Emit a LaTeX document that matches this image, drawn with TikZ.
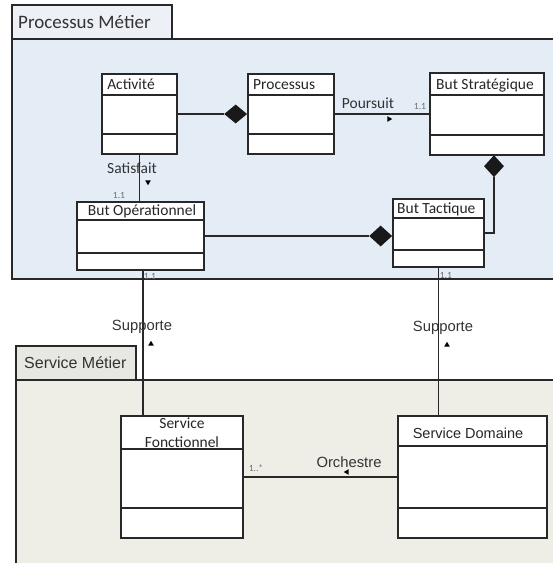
\documentclass[tikz,border=0pt]{standalone}
\usepackage{fontspec}
\setmainfont{Carlito}
\newfontfamily\arialfont{Liberation Sans}
\usetikzlibrary{positioning,shapes.geometric}
\definecolor{procfill}{RGB}{228,236,246}
\definecolor{proctab}{RGB}{237,241,247}
\definecolor{servfill}{RGB}{238,238,231}
\definecolor{servtab}{RGB}{232,232,226}
\definecolor{lineclr}{RGB}{40,40,40}
\definecolor{multclr}{RGB}{110,110,110}

\begin{document}
\begin{tikzpicture}[x=1pt, y=-1pt,
    pkgshape/.style={draw=lineclr, line width=1.1pt},
    classbox/.style={draw=lineclr, fill=white, line width=1.3pt, inner sep=0pt},
    classname/.style={font=\fontsize{15.5}{17}\selectfont, inner sep=0pt, text=black!85},
    assoc/.style={draw=lineclr, line width=1.1pt},
    compo/.style={diamond, fill=black!90, inner sep=0pt, minimum width=23pt, minimum height=19pt},
    dirtri/.style={regular polygon, regular polygon sides=3, fill=black, inner sep=0pt, minimum size=6.5pt},
    assoclabel/.style={font=\fontsize{15.5}{17}\selectfont, inner sep=0pt, text=black!80},
    mult/.style={font=\fontsize{9.5}{10}\selectfont, inner sep=0pt, text=multclr}
]
\useasboundingbox (0,0) rectangle (553,563);
\clip (0,0) rectangle (553,563);

% packages
\draw[pkgshape, fill=proctab] (12,5) rectangle (172,39);
\draw[pkgshape, fill=procfill] (12,39) rectangle (560,279);
\node[font=\fontsize{19}{21}\selectfont, anchor=west, inner sep=0pt, text=black!80] (pkgproc) at (18,22) {Processus Métier};

\draw[pkgshape, fill=servtab] (16,346) rectangle (136,380);
\draw[pkgshape, fill=servfill] (16,380) rectangle (560,570);
\node[font=\arialfont\fontsize{16}{18}\selectfont, anchor=west, inner sep=0pt, text=black!80] (pkgserv) at (24,363) {Service Métier};

% classes
\node[classbox, minimum width=75pt, minimum height=80pt] (act) at (139.5,114) {};
\draw[classbox] (act.west |- 0,95) -- (act.east |- 0,95);
\draw[classbox] (act.west |- 0,134) -- (act.east |- 0,134);
\node[classname] (actname) at (131,84.5) {Activité};

\node[classbox, minimum width=86pt, minimum height=80pt] (proc) at (291,114) {};
\draw[classbox] (proc.west |- 0,95) -- (proc.east |- 0,95);
\draw[classbox] (proc.west |- 0,134) -- (proc.east |- 0,134);
\node[classname, anchor=west] (procname) at (253,84.5) {Processus};

\node[classbox, minimum width=114pt, minimum height=82pt] (bs) at (487,114) {};
\draw[classbox] (bs.west |- 0,95) -- (bs.east |- 0,95);
\draw[classbox] (bs.west |- 0,135) -- (bs.east |- 0,135);
\node[classname, anchor=west] (bsname) at (436,85) {But Stratégique};

\node[classbox, minimum width=127pt, minimum height=68pt] (bo) at (140.5,236) {};
\draw[classbox] (bo.west |- 0,220) -- (bo.east |- 0,220);
\draw[classbox] (bo.west |- 0,253) -- (bo.east |- 0,253);
\node[classname] (boname) at (142,212) {\underline{But Opérationnel}};

\node[classbox, minimum width=91pt, minimum height=68pt] (bt) at (438.5,233) {};
\draw[classbox] (bt.west |- 0,218) -- (bt.east |- 0,218);
\draw[classbox] (bt.west |- 0,250) -- (bt.east |- 0,250);
\node[classname, anchor=west] (btname) at (397,210) {\underline{But Tactique}};

\node[classbox, minimum width=122pt, minimum height=122pt] (sf) at (182,477) {};
\draw[classbox] (sf.west |- 0,449) -- (sf.east |- 0,449);
\draw[classbox] (sf.west |- 0,508) -- (sf.east |- 0,508);
\node[classname, align=center, font=\fontsize{15.5}{19}\selectfont] (sfname) at (182,432.5) {Service\\Fonctionnel};

\node[classbox, minimum width=149pt, minimum height=122pt] (sd) at (472.5,477) {};
\draw[classbox] (sd.west |- 0,446) -- (sd.east |- 0,446);
\draw[classbox] (sd.west |- 0,508) -- (sd.east |- 0,508);
\node[classname, font=\arialfont\fontsize{14.5}{17}\selectfont] (sdname) at (468,433) {Service Domaine};

% connectors
\node[compo, anchor=east] (d1) at (proc.west) {};
\draw[assoc] (act.east) -- (d1.west);

\draw[assoc] (proc.east) -- (bs.west);
\node[assoclabel] (poursuit) at (368,103) {Poursuit};
\node[dirtri, rotate=-90] (poursuittri) at (389,119) {};
\node[mult] (m1) at (420,106) {1.1};

\node[compo, minimum width=20pt, minimum height=22pt, anchor=north] (d2) at (494,155) {};
\draw[assoc] (d2.south) |- (bt.east);

\node[compo, minimum height=21pt, anchor=east] (d3) at (bt.west |- bo.east) {};
\draw[assoc] (bo.east) -- (d3.west);

\draw[assoc] (act.south) -- (act.south |- bo.north);
\node[assoclabel] (satisfait) at (132,168) {Satisfait};
\node[dirtri, rotate=180] (satisfaittri) at (148,182) {};
\node[mult] (m2) at (119,195) {1.1};

\draw[assoc] ([xshift=2.5pt]bo.south) -- ([xshift=2.5pt]bo.south |- sf.north);
\node[mult] (m3) at (150,276) {1.1};
\node[assoclabel, font=\arialfont\fontsize{14.8}{17}\selectfont] (supp1) at (142,327) {Supporte};
\node[dirtri] (supp1tri) at (151,344) {};

\draw[assoc] (bt.south) -- (bt.south |- sd.north);
\node[mult] (m4) at (446,275) {1.1};
\node[assoclabel, font=\arialfont\fontsize{14.8}{17}\selectfont] (supp2) at (443,328) {Supporte};
\node[dirtri] (supp2tri) at (447,345) {};

\draw[assoc] (sf.east) -- (sd.west);
\node[mult] (m5) at (256,468) {1..*};
\node[assoclabel, font=\arialfont\fontsize{14.8}{17}\selectfont] (orch) at (349,462) {Orchestre};
\node[dirtri, rotate=90] (orchtri) at (347,472) {};

\end{tikzpicture}
\end{document}
